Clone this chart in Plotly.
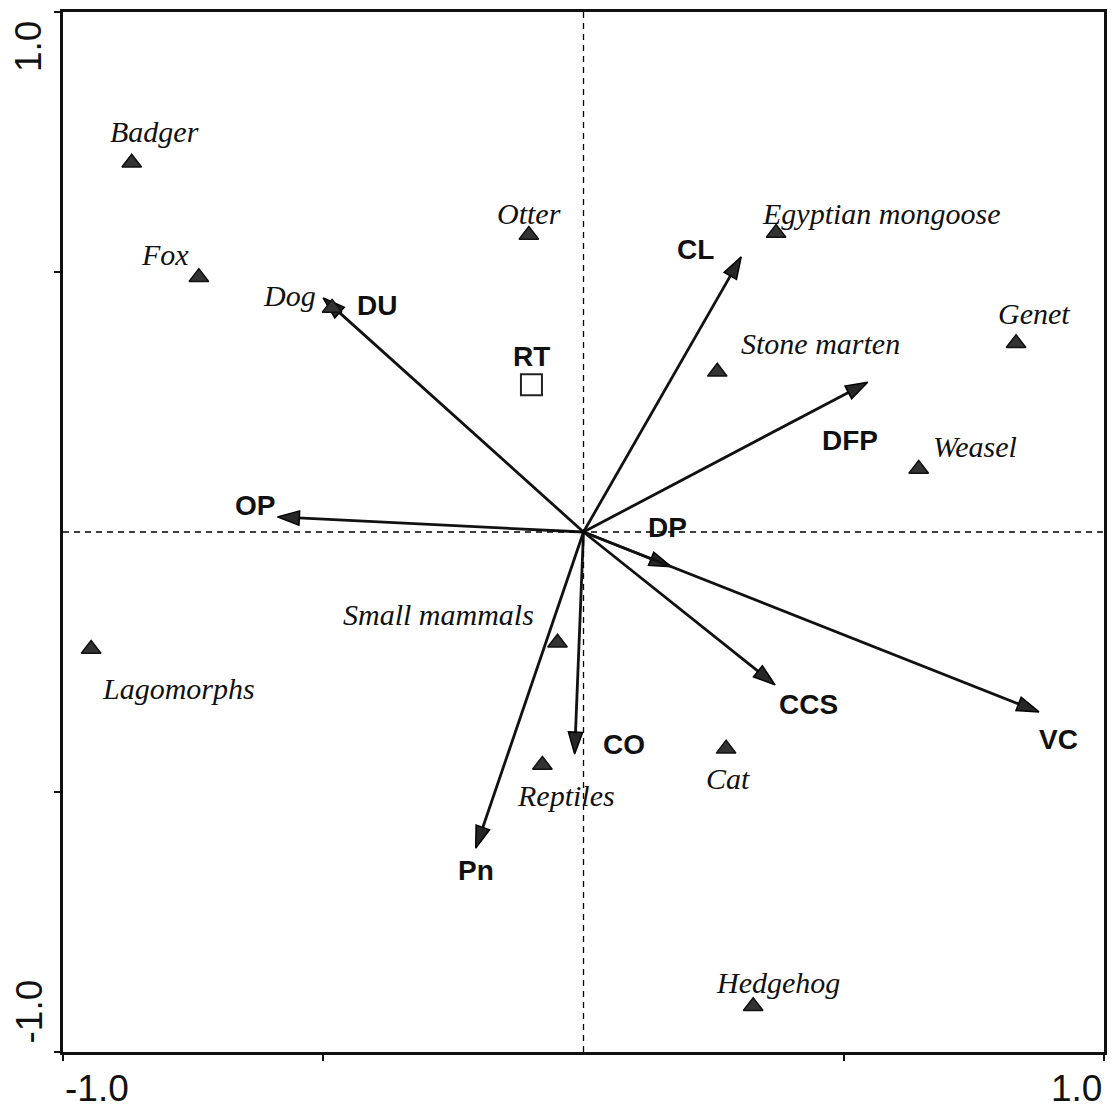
import plotly.graph_objects as go

# Species scores (ordination axes 1 and 2)
species = ["Badger", "Fox", "Dog", "Otter", "Egyptian mongoose", "Genet",
           "Stone marten", "Weasel", "Small mammals", "Lagomorphs", "Cat",
           "Reptiles", "Hedgehog"]
species_x = [-0.868, -0.739, -0.483, -0.105, 0.370, 0.831,
             0.257, 0.644, -0.050, -0.946, 0.274, -0.079, 0.326]
species_y = [0.710, 0.490, 0.431, 0.571, 0.575, 0.363,
             0.308, 0.121, -0.213, -0.225, -0.417, -0.448, -0.912]

# Environmental variables (biplot arrows)
variables = ["DU", "CL", "DFP", "OP", "DP", "VC", "CCS", "CO", "Pn"]
var_x = [-0.500, 0.303, 0.546, -0.588, 0.169, 0.875, 0.368, -0.017, -0.207]
var_y = [0.450, 0.529, 0.288, 0.029, -0.067, -0.346, -0.294, -0.427, -0.608]

# Nominal variable centroid
centroid_name = "RT"
centroid_x = [-0.100]
centroid_y = [0.283]

axis_tick_labels = ["-1.0", "1.0"]

# Label offsets in pixels (dx right, dy up)
species_offsets = {
    "Badger": (23, 31), "Fox": (-34, 23), "Dog": (-43, 12), "Otter": (0, 22),
    "Egyptian mongoose": (105, 20), "Genet": (18, 30), "Stone marten": (103, 28),
    "Weasel": (56, 23), "Small mammals": (-119, 28), "Lagomorphs": (87, -39),
    "Cat": (2, -30), "Reptiles": (24, -31), "Hedgehog": (25, 24),
}
variable_offsets = {
    "DU": (54, -7), "CL": (-46, 7), "DFP": (-18, -58), "OP": (-22, 11),
    "DP": (-4, 39), "VC": (20, -28), "CCS": (33, -20), "CO": (49, 10),
    "Pn": (0, -22),
}

fig = go.Figure()

# Dashed reference lines through the origin
fig.add_shape(type="line", x0=0, x1=0, y0=-1, y1=1, xref="x", yref="y",
              line=dict(color="black", width=1.3, dash="6px,5px"))
fig.add_shape(type="line", x0=-1, x1=1, y0=0, y1=0, xref="x", yref="y",
              line=dict(color="black", width=1.3, dash="6px,5px"))

# Arrows from the origin
for name, vx, vy in zip(variables, var_x, var_y):
    fig.add_trace(go.Scatter(
        x=[0, vx], y=[0, vy], mode="lines+markers",
        line=dict(color="#111111", width=2.8),
        marker=dict(symbol="arrow", size=[0, 23], angleref="previous",
                    color="#262626", opacity=1,
                    line=dict(color="#000000", width=1.5)),
        hoverinfo="skip", showlegend=False))

# Species triangles
fig.add_trace(go.Scatter(
    x=species_x, y=species_y, mode="markers",
    marker=dict(symbol="triangle-up", size=17, color="#333333",
                line=dict(color="#111111", width=1.5)),
    hoverinfo="skip", showlegend=False))

# Centroid square
fig.add_trace(go.Scatter(
    x=centroid_x, y=centroid_y, mode="markers",
    marker=dict(symbol="square-open", size=21, color="#222222",
                line=dict(width=2)),
    hoverinfo="skip", showlegend=False))

annotations = []
serif = dict(family="Liberation Serif, Times New Roman, serif", size=30,
             color="#111111", style="italic")
sans_bold = dict(family="Liberation Sans, Arial, sans-serif", size=28,
                 color="#111111", weight="bold")

for name, sx, sy in zip(species, species_x, species_y):
    dx, dy = species_offsets[name]
    annotations.append(dict(x=sx, y=sy, text=name, showarrow=False,
                            xshift=dx, yshift=dy, font=serif))

for name, vx, vy in zip(variables, var_x, var_y):
    dx, dy = variable_offsets[name]
    annotations.append(dict(x=vx, y=vy, text=name, showarrow=False,
                            xshift=dx, yshift=dy, font=sans_bold))

annotations.append(dict(x=centroid_x[0], y=centroid_y[0], text=centroid_name,
                        showarrow=False, xshift=0, yshift=28, font=sans_bold))

# Axis end labels, set inside the axis ends
tick_font = dict(family="Liberation Sans, Arial, sans-serif", size=37, color="#111111")
annotations += [
    dict(x=-1, y=0, xref="x", yref="paper", text=axis_tick_labels[0],
         showarrow=False, xanchor="left", yanchor="top", yshift=-14, font=tick_font),
    dict(x=1, y=0, xref="x", yref="paper", text=axis_tick_labels[1],
         showarrow=False, xanchor="right", yanchor="top", yshift=-14, font=tick_font),
    dict(x=0, y=1, xref="paper", yref="y", text=axis_tick_labels[1],
         showarrow=False, xanchor="right", yanchor="top", xshift=-12, yshift=-7,
         textangle=-90, font=tick_font),
    dict(x=0, y=-1, xref="paper", yref="y", text=axis_tick_labels[0],
         showarrow=False, xanchor="right", yanchor="bottom", xshift=-12, yshift=6,
         textangle=-90, font=tick_font),
]

axis_common = dict(range=[-1, 1], showgrid=False, zeroline=False,
                   showline=True, mirror=True, linecolor="#111111", linewidth=2.8,
                   ticks="outside", ticklen=6, tickwidth=2, tickcolor="#111111",
                   tickvals=[-1, -0.5, 0.5, 1], showticklabels=False)

fig.update_layout(
    width=1116, height=1115,
    margin=dict(l=63, r=9, t=12, b=63),
    paper_bgcolor="white", plot_bgcolor="white",
    xaxis=axis_common, yaxis=axis_common,
    annotations=annotations,
    showlegend=False,
)

fig.write_html("out.html")
